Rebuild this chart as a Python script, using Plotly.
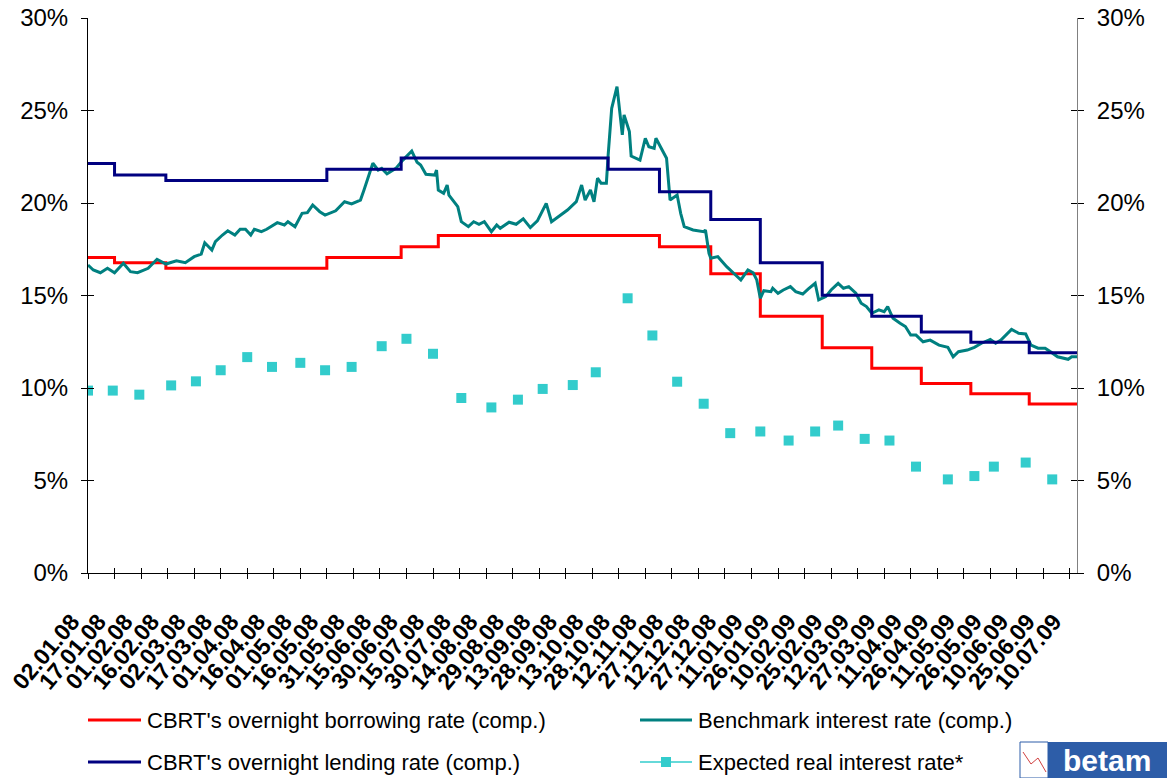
import plotly.graph_objects as go

# ---------------- data ----------------
tick_dates = ["2008-01-02", "2008-01-17", "2008-02-01", "2008-02-16", "2008-03-02", "2008-03-17",
              "2008-04-01", "2008-04-16", "2008-05-01", "2008-05-16", "2008-05-31", "2008-06-15",
              "2008-06-30", "2008-07-15", "2008-07-30", "2008-08-14", "2008-08-29", "2008-09-13",
              "2008-09-28", "2008-10-13", "2008-10-28", "2008-11-12", "2008-11-27", "2008-12-12",
              "2008-12-27", "2009-01-11", "2009-01-26", "2009-02-10", "2009-02-25", "2009-03-12",
              "2009-03-27", "2009-04-11", "2009-04-26", "2009-05-11", "2009-05-26", "2009-06-10",
              "2009-06-25", "2009-07-10"]
tick_labels = ["02.01.08", "17.01.08", "01.02.08", "16.02.08", "02.03.08", "17.03.08",
               "01.04.08", "16.04.08", "01.05.08", "16.05.08", "31.05.08", "15.06.08",
               "30.06.08", "15.07.08", "30.07.08", "14.08.08", "29.08.08", "13.09.08",
               "28.09.08", "13.10.08", "28.10.08", "12.11.08", "27.11.08", "12.12.08",
               "27.12.08", "11.01.09", "26.01.09", "10.02.09", "25.02.09", "12.03.09",
               "27.03.09", "11.04.09", "26.04.09", "11.05.09", "26.05.09", "10.06.09",
               "25.06.09", "10.07.09"]

borrow_dates = ["2008-01-02", "2008-01-17", "2008-02-15", "2008-05-16", "2008-06-27", "2008-07-18",
                "2008-11-20", "2008-12-19", "2009-01-16", "2009-02-20", "2009-03-20", "2009-04-17",
                "2009-05-15", "2009-06-17", "2009-07-14"]
borrow_values = [17.06, 16.77, 16.47, 17.06, 17.64, 18.24,
                 17.64, 16.18, 13.88, 12.18, 11.07, 10.24,
                 9.69, 9.14, 9.14]

lend_dates = ["2008-01-02", "2008-01-17", "2008-02-15", "2008-05-16", "2008-06-27", "2008-10-22",
              "2008-11-20", "2008-12-19", "2009-01-16", "2009-02-20", "2009-03-20", "2009-04-17",
              "2009-05-15", "2009-06-17", "2009-07-14"]
lend_values = [22.13, 21.52, 21.22, 21.82, 22.43, 21.82,
               20.61, 19.11, 16.77, 15.02, 13.88, 13.03,
               12.47, 11.91, 11.91]

bench_dates = ["2008-01-02", "2008-01-05", "2008-01-09", "2008-01-13", "2008-01-17", "2008-01-22",
               "2008-01-26", "2008-01-30", "2008-02-05", "2008-02-10", "2008-02-15", "2008-02-21",
               "2008-02-26", "2008-03-02", "2008-03-06", "2008-03-08", "2008-03-12", "2008-03-14",
               "2008-03-18", "2008-03-21", "2008-03-25", "2008-03-28", "2008-03-31", "2008-04-03",
               "2008-04-05", "2008-04-09", "2008-04-12", "2008-04-18", "2008-04-22", "2008-04-24",
               "2008-04-28", "2008-05-02", "2008-05-05", "2008-05-08", "2008-05-12", "2008-05-15",
               "2008-05-21", "2008-05-26", "2008-05-30", "2008-06-04", "2008-06-06", "2008-06-11",
               "2008-06-14", "2008-06-16", "2008-06-19", "2008-06-24", "2008-06-28", "2008-07-03",
               "2008-07-06", "2008-07-08", "2008-07-11", "2008-07-16", "2008-07-17", "2008-07-18",
               "2008-07-21", "2008-07-23", "2008-07-24", "2008-07-29", "2008-07-31", "2008-08-04",
               "2008-08-07", "2008-08-10", "2008-08-13", "2008-08-17", "2008-08-20", "2008-08-22",
               "2008-08-27", "2008-08-31", "2008-09-04", "2008-09-08", "2008-09-12", "2008-09-17",
               "2008-09-20", "2008-09-24", "2008-09-29", "2008-10-04", "2008-10-07", "2008-10-09",
               "2008-10-12", "2008-10-14", "2008-10-16", "2008-10-18", "2008-10-21", "2008-10-22",
               "2008-10-24", "2008-10-27", "2008-10-29", "2008-10-30", "2008-10-31", "2008-11-03",
               "2008-11-04", "2008-11-09", "2008-11-12", "2008-11-14", "2008-11-17", "2008-11-18",
               "2008-11-24", "2008-11-25", "2008-11-26", "2008-11-30", "2008-12-02", "2008-12-04",
               "2008-12-09", "2008-12-15", "2008-12-16", "2008-12-18", "2008-12-19", "2008-12-23",
               "2008-12-28", "2009-01-02", "2009-01-05", "2009-01-09", "2009-01-12", "2009-01-14",
               "2009-01-16", "2009-01-18", "2009-01-22", "2009-01-23", "2009-01-26", "2009-01-29",
               "2009-02-02", "2009-02-05", "2009-02-09", "2009-02-12", "2009-02-16", "2009-02-18",
               "2009-02-22", "2009-02-25", "2009-03-01", "2009-03-04", "2009-03-07", "2009-03-11",
               "2009-03-14", "2009-03-17", "2009-03-20", "2009-03-24", "2009-03-27", "2009-03-29",
               "2009-04-01", "2009-04-05", "2009-04-08", "2009-04-11", "2009-04-14", "2009-04-18",
               "2009-04-22", "2009-04-27", "2009-05-02", "2009-05-05", "2009-05-08", "2009-05-13",
               "2009-05-17", "2009-05-21", "2009-05-26", "2009-05-29", "2009-06-01", "2009-06-07",
               "2009-06-11", "2009-06-15", "2009-06-18", "2009-06-22", "2009-06-26", "2009-06-29",
               "2009-07-03", "2009-07-09", "2009-07-11", "2009-07-14"]
bench_values = [16.65, 16.38, 16.23, 16.47, 16.23, 16.74,
                16.29, 16.23, 16.47, 16.96, 16.70, 16.88,
                16.77, 17.10, 17.24, 17.85, 17.46, 17.91,
                18.27, 18.50, 18.27, 18.58, 18.58, 18.27,
                18.58, 18.45, 18.58, 18.94, 18.81, 18.99,
                18.72, 19.44, 19.48, 19.89, 19.53, 19.35,
                19.58, 20.07, 19.95, 20.16, 20.70, 22.15,
                21.78, 21.87, 21.58, 21.87, 22.32, 22.81,
                22.20, 22.05, 21.55, 21.51, 21.78, 20.70,
                20.52, 20.97, 20.43, 19.80, 18.99, 18.72,
                18.99, 18.85, 18.99, 18.45, 18.81, 18.63,
                18.96, 18.85, 19.14, 18.67, 19.03, 19.98,
                18.99, 19.26, 19.62, 20.07, 20.97, 20.16,
                20.70, 20.07, 21.34, 21.07, 21.07, 22.59,
                25.12, 26.29, 24.66, 23.68, 24.76, 23.86,
                22.54, 22.32, 23.50, 23.04, 22.96, 23.50,
                22.42, 21.42, 20.16, 20.43, 19.44, 18.72,
                18.54, 18.45, 18.54, 17.28, 17.01, 17.10,
                16.56, 16.11, 15.84, 16.38, 16.23, 15.84,
                14.85, 15.26, 15.21, 15.39, 15.12, 15.30,
                15.48, 15.21, 15.08, 15.34, 15.66, 14.76,
                14.94, 15.30, 15.66, 15.39, 15.48, 15.12,
                14.58, 14.40, 14.04, 14.22, 14.12, 14.40,
                13.77, 13.50, 13.32, 12.86, 12.86, 12.50,
                12.59, 12.32, 12.20, 11.69, 11.96, 12.05,
                12.20, 12.42, 12.63, 12.42, 12.59, 13.17,
                12.96, 12.92, 12.32, 12.15, 12.15, 11.96,
                11.69, 11.55, 11.69, 11.69]

real_dates = ["2008-01-02", "2008-01-16", "2008-01-31", "2008-02-18", "2008-03-03", "2008-03-17",
              "2008-04-01", "2008-04-15", "2008-05-01", "2008-05-15", "2008-05-30", "2008-06-16",
              "2008-06-30", "2008-07-15", "2008-07-31", "2008-08-17", "2008-09-01", "2008-09-15",
              "2008-10-02", "2008-10-15", "2008-11-02", "2008-11-16", "2008-11-30", "2008-12-15",
              "2008-12-30", "2009-01-16", "2009-02-01", "2009-02-16", "2009-03-01", "2009-03-16",
              "2009-03-30", "2009-04-14", "2009-05-02", "2009-05-17", "2009-05-28", "2009-06-15",
              "2009-06-30"]
real_values = [9.86, 9.86, 9.64, 10.14, 10.36, 10.96,
               11.67, 11.14, 11.36, 10.96, 11.14, 12.26,
               12.66, 11.85, 9.46, 8.95, 9.37, 9.95,
               10.16, 10.85, 14.85, 12.84, 10.34, 9.15,
               7.56, 7.65, 7.16, 7.65, 7.97, 7.25,
               7.16, 5.75, 5.06, 5.24, 5.75, 5.97,
               5.06]

names = ["CBRT's overnight borrowing rate (comp.)",
         "CBRT's overnight lending rate (comp.)",
         "Benchmark interest rate (comp.)",
         "Expected real interest rate*"]

x_range = ["2008-01-02", "2009-07-14"]
y_range = [0, 30]

# ---------------- figure ----------------
FONT = "Arial, Liberation Sans, sans-serif"
RED = "#FF0000"
NAVY = "#000080"
TEAL = "#008080"
TURQ = "#33CCCC"

W, H = 1167, 778
ML, MR, MT, MB = 88, 90, 18, 205
PW, PH = W - ML - MR, H - MT - MB


def px(xp):
    return (xp - ML) / PW


def py(yp):
    return (H - MB - yp) / PH


fig = go.Figure()

fig.add_trace(go.Scatter(x=borrow_dates, y=borrow_values, name=names[0], mode="lines",
                         line=dict(color=RED, width=3, shape="hv")))
fig.add_trace(go.Scatter(x=bench_dates, y=bench_values, name=names[2], mode="lines",
                         line=dict(color=TEAL, width=3)))
fig.add_trace(go.Scatter(x=lend_dates, y=lend_values, name=names[1], mode="lines",
                         line=dict(color=NAVY, width=3, shape="hv")))
fig.add_trace(go.Scatter(x=real_dates, y=real_values, name=names[3], mode="markers",
                         marker=dict(color=TURQ, size=10, symbol="square"), yaxis="y2"))
# carriers for the inner half of the crossing tick marks
fig.add_trace(go.Scatter(x=[None], y=[None], xaxis="x2", yaxis="y3", hoverinfo="skip"))
fig.add_trace(go.Scatter(x=[None], y=[None], yaxis="y4", hoverinfo="skip"))

common_x = dict(type="date", range=x_range, tickvals=tick_dates, showgrid=False,
                zeroline=False, automargin=False)
common_y = dict(range=y_range, dtick=5, tick0=0, showgrid=False, zeroline=False,
                automargin=False)

fig.update_layout(
    width=W, height=H,
    margin=dict(l=ML, r=MR, t=MT, b=MB, autoexpand=False),
    plot_bgcolor="white", paper_bgcolor="white",
    font=dict(family=FONT, color="black"),
    showlegend=False,
    xaxis=dict(**common_x, ticktext=tick_labels, tickangle=-50,
               tickfont=dict(family=FONT, size=23, weight="bold", color="black"),
               ticks="outside", ticklen=5, tickcolor="black",
               ticklabelstandoff=20, ticklabelshift=-16,
               showline=True, linecolor="black", linewidth=1),
    xaxis2=dict(**common_x, overlaying="x", anchor="y3", side="bottom",
                ticks="inside", ticklen=5, tickcolor="black",
                showticklabels=False, showline=False),
    yaxis=dict(**common_y, ticksuffix="%", side="left",
               tickfont=dict(family=FONT, size=24, color="black"),
               ticks="outside", ticklen=6, tickcolor="black", ticklabelstandoff=8,
               showline=True, linecolor="black", linewidth=1),
    yaxis2=dict(**common_y, ticksuffix="%", overlaying="y", side="right",
                tickfont=dict(family=FONT, size=24, color="black"),
                ticks="outside", ticklen=6, tickcolor="black", ticklabelstandoff=8,
                showline=True, linecolor="#808080", linewidth=1),
    yaxis3=dict(**common_y, overlaying="y", side="left", anchor="x2",
                ticks="inside", ticklen=6, tickcolor="black",
                showticklabels=False, showline=False),
    yaxis4=dict(**common_y, overlaying="y", side="right",
                ticks="inside", ticklen=6, tickcolor="black",
                showticklabels=False, showline=False),
)

# ---------------- legend (drawn in the bottom margin) ----------------
legend_rows = [
    (720, 88, 141, RED, 3, names[0], False),
    (720, 640, 692, TEAL, 3, names[2], False),
    (762, 88, 141, NAVY, 3, names[1], False),
    (762, 640, 692, TURQ, 1.5, names[3], True),
]
for yrow, x0, x1, col, lw, label, with_marker in legend_rows:
    fig.add_shape(type="line", xref="paper", yref="paper",
                  x0=px(x0), x1=px(x1), y0=py(yrow), y1=py(yrow),
                  line=dict(color=col, width=lw))
    if with_marker:
        xm = (x0 + x1) / 2
        fig.add_shape(type="rect", xref="paper", yref="paper",
                      x0=px(xm - 5), x1=px(xm + 5), y0=py(yrow + 5), y1=py(yrow - 5),
                      fillcolor=col, line=dict(width=0))
    fig.add_annotation(xref="paper", yref="paper", x=px(x1 + 4), y=py(yrow),
                       xanchor="left", yanchor="middle", text=label, showarrow=False,
                       font=dict(family=FONT, size=22, color="black"))

# small "betam" logo in the lower-right corner
fig.add_shape(type="rect", xref="paper", yref="paper",
              x0=px(1020), x1=px(1048), y0=py(778), y1=py(742),
              fillcolor="white", line=dict(color="#2D5DA8", width=1))
fig.add_shape(type="path", xref="paper", yref="paper",
              path="M {} {} L {} {} L {} {} L {} {}".format(
                  px(1023), py(752), px(1031), py(764), px(1038), py(758), px(1046), py(772)),
              line=dict(color="#D04040", width=1))
fig.add_shape(type="rect", xref="paper", yref="paper",
              x0=px(1048), x1=px(1167), y0=py(778), y1=py(742),
              fillcolor="#2D5DA8", line=dict(width=0))
fig.add_annotation(xref="paper", yref="paper", x=px(1107), y=py(760),
                   xanchor="center", yanchor="middle",
                   text="<b>betam</b>", showarrow=False,
                   font=dict(family=FONT, size=30, color="white"))

fig.write_html("out.html",
               config={"displayModeBar": False},
               post_script="document.body.style.margin='0px';document.body.style.overflow='hidden';")
